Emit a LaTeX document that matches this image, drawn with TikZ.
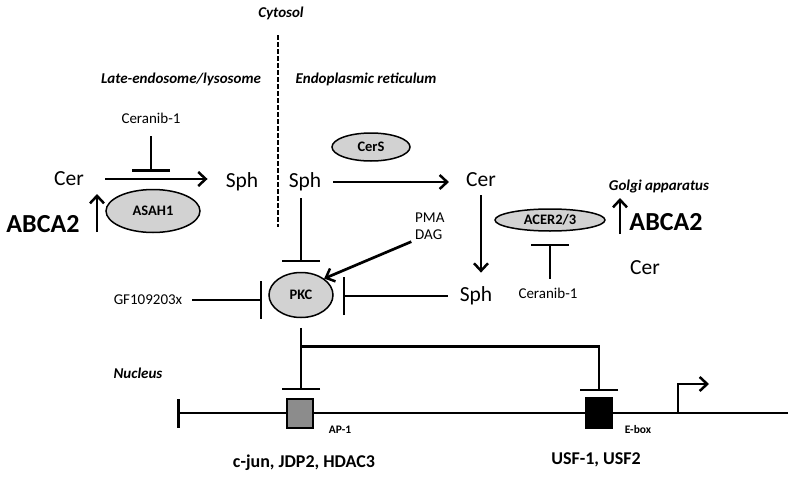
\documentclass[tikz,border=0pt]{standalone}
\usepackage{fontspec}
\setmainfont{Carlito}
\usetikzlibrary{arrows.meta, shapes.geometric}

\tikzset{
  lipid/.style = {inner sep=0pt, font=\fontsize{21.5}{25}\selectfont},
  drug/.style = {inner sep=0pt, font=\fontsize{15}{18}\selectfont},
  place/.style = {inner sep=0pt, font=\fontsize{15}{18}\selectfont\bfseries\itshape},
  big/.style = {inner sep=0pt, font=\fontsize{26}{30}\selectfont\bfseries},
  tf/.style = {inner sep=0pt, font=\fontsize{18}{21}\selectfont\bfseries},
  site/.style = {inner sep=0pt, font=\fontsize{11.5}{14}\selectfont\bfseries},
  enz/.style = {ellipse, draw, line width=1.5pt, fill=gray!35, inner sep=0pt,
    font=\fontsize{14.5}{16}\selectfont\bfseries},
  box/.style = {rectangle, draw, line width=1.5pt, inner sep=0pt,
    minimum width=26pt, minimum height=29pt},
  act/.style = {line width=2.7pt,
    -{Straight Barb[length=7.5pt, width=14pt, line width=2.5pt]}},
  inh/.style = {line width=2.7pt, -{Bar[width=38pt]}},
}

\begin{document}
\begin{tikzpicture}[x=1pt, y=-1pt]
\useasboundingbox (0,0) rectangle (800,479);

\node[place] (cyto) at (281,13) {Cytosol};
\node[place] (lyso) at (181,79) {Late-endosome/lysosome};
\node[place] (er) at (366,79) {Endoplasmic reticulum};
\node[place] (golgi) at (659,186) {Golgi apparatus};
\node[place] (nucl) at (138,373) {Nucleus};
\coordinate (dtop) at (278,35);
\coordinate (dbot) at (278,227);
\draw[line width=2.6pt, dash pattern=on 5pt off 2pt] (dtop) -- (dbot);

\node[lipid] (cer1) at (69,179) {Cer};
\node[lipid] (sph1) at (242,182) {Sph};
\node[lipid] (sph2) at (305,182) {Sph};
\node[lipid] (cer2) at (481,180) {Cer};
\node[lipid] (sph3) at (476,296) {Sph};
\node[lipid] (cer3) at (645,268) {Cer};
\node[big] (abca1) at (43,224) {ABCA2};
\node[big] (abca2) at (666,222) {ABCA2};

\node[drug] (cnb1) at (151,118) {Ceranib-1};
\node[drug] (cnb2) at (548,293) {Ceranib-1};
\node[drug] (gf) at (148,300) {GF109203x};
\node[drug, anchor=west] (pma) at (415,218) {PMA};
\node[drug, anchor=west] (dag) at (415,235) {DAG};

\node[enz, minimum width=94pt, minimum height=43pt] (asah) at (153,211) {ASAH1};
\node[enz, minimum width=78pt, minimum height=28pt] (cers) at (371,147) {CerS};
\node[enz, minimum width=64pt, minimum height=45pt] (pkc) at (301,295) {PKC};
\node[enz, minimum width=110pt, minimum height=22pt] (acer) at (550,220) {ACER2/3};

\coordinate (b1) at (151,172);
\draw[inh, shorten <=13pt] (cnb1) -- (b1);
\draw[act, shorten <=21pt, shorten >=18pt] (cer1.east) -- (cer1.east -| sph1.west);
\draw[act, shorten <=12pt, shorten >=17pt] (sph2.east) -- (sph2.east -| cer2.west);
\draw[act, shorten <=8pt, shorten >=14pt] (cer2.south) -- (cer2.south |- sph3.north);
\draw[inh, shorten <=7pt, shorten >=9.5pt] (pkc.north |- sph2.south) -- (pkc.north);
\draw[inh, shorten <=12pt, shorten >=9pt] (sph3.west) -- (sph3.west -| pkc.east);
\draw[inh, shorten <=10pt, shorten >=6pt] (gf.east) -- (gf.east -| pkc.west);
\draw[act, shorten <=4pt] (dag.south west) -- (pkc.north east);
\draw[inh, shorten <=9pt, shorten >=12pt] (acer.south |- cnb2.north) -- (acer.south);

\coordinate (up1) at (97,232);
\coordinate (up2) at (620,234);
\draw[act] (up1) -- ++(0,-38);
\draw[act] (up2) -- ++(0,-36);

\coordinate (dnaL) at (177,413);
\coordinate (dnaR) at (788,413);
\coordinate (tss) at (678,413);
\draw[line width=2.7pt, -{Bar[width=29pt]}] (dnaR) -- (dnaL);
\draw[act] (tss) -- ++(0,-29) -- ++(31,0);

\node[box, fill=black!45] (ap1) at (300,413.5) {};
\node[box, fill=black, minimum height=30pt] (ebox) at (599,413) {};
\node[site] (ap1l) at (340,430) {AP-1};
\node[site] (eboxl) at (638,430) {E-box};

\path (pkc.south) ++(0,62) coordinate (br);
\draw[inh, shorten <=9.5pt, shorten >=8pt] (pkc.south) -- (pkc.south |- ap1.north);
\draw[inh, shorten >=6pt] (pkc.south |- br) ++(0,-34) -| (ebox.north);

\node[tf] (cjun) at (304,463) {c-jun, JDP2, HDAC3};
\node[tf] (usf) at (596,460) {USF-1, USF2};
\end{tikzpicture}
\end{document}
